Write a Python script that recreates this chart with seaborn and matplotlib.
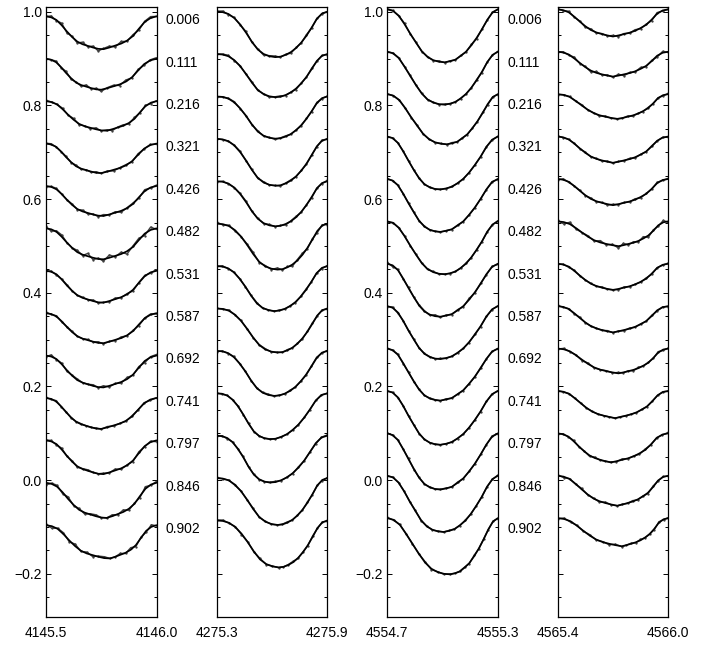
import numpy as np
import pandas as pd
import matplotlib
matplotlib.use("Agg")
import matplotlib.pyplot as plt
import seaborn as sns
from matplotlib.ticker import MultipleLocator, FuncFormatter

# ---------------- data ----------------
phases = ["0.006", "0.111", "0.216", "0.321", "0.426", "0.482", "0.531",
          "0.587", "0.692", "0.741", "0.797", "0.846", "0.902"]

wave_ranges = [(4145.5, 4146.0), (4275.3, 4275.9), (4554.7, 4555.3), (4565.4, 4566.0)]

# normalised profile shapes (0 = continuum, 1 = line core), 21 samples across the panel
shape_p1 = [0.00, 0.03, 0.11, 0.27, 0.46, 0.63, 0.77, 0.85, 0.90, 0.95, 0.99,
            1.00, 0.95, 0.89, 0.83, 0.74, 0.60, 0.38, 0.17, 0.05, 0.00]
shape_p2 = [0.00, 0.01, 0.05, 0.14, 0.28, 0.46, 0.66, 0.83, 0.93, 0.98, 1.00,
            0.99, 0.95, 0.89, 0.80, 0.68, 0.53, 0.35, 0.16, 0.04, 0.00]
shape_p3 = [0.00, 0.03, 0.12, 0.28, 0.46, 0.63, 0.79, 0.90, 0.96, 0.99, 1.00,
            0.98, 0.95, 0.88, 0.80, 0.68, 0.54, 0.38, 0.20, 0.06, 0.00]
shape_p4 = [0.00, 0.03, 0.11, 0.27, 0.45, 0.62, 0.76, 0.85, 0.91, 0.96, 1.00,
            0.96, 0.91, 0.86, 0.79, 0.69, 0.57, 0.38, 0.16, 0.04, 0.00]

# line depth for each phase
depth_p1 = [0.070, 0.066, 0.063, 0.063, 0.064, 0.066, 0.068, 0.064, 0.068, 0.066, 0.072, 0.075, 0.071]
depth_p2 = [0.097, 0.092, 0.090, 0.100, 0.096, 0.098, 0.096, 0.094, 0.096, 0.098, 0.100, 0.100, 0.100]
depth_p3 = [0.113, 0.113, 0.107, 0.113, 0.113, 0.113, 0.113, 0.113, 0.111, 0.115, 0.120, 0.120, 0.120]
depth_p4 = [0.058, 0.053, 0.053, 0.056, 0.056, 0.053, 0.056, 0.056, 0.053, 0.058, 0.062, 0.064, 0.060]

# position of the line core (fraction of the window) for each phase
core_p1 = [0.52, 0.50, 0.55, 0.50, 0.52, 0.52, 0.52, 0.52, 0.52, 0.50, 0.52, 0.55, 0.58]
core_p2 = [0.53, 0.53, 0.53, 0.53, 0.53, 0.55, 0.52, 0.55, 0.52, 0.48, 0.48, 0.55, 0.56]
core_p3 = [0.52, 0.52, 0.54, 0.48, 0.48, 0.52, 0.48, 0.48, 0.48, 0.48, 0.48, 0.51, 0.57]
core_p4 = [0.50, 0.50, 0.54, 0.50, 0.50, 0.55, 0.50, 0.50, 0.55, 0.52, 0.48, 0.54, 0.58]

# continuum level of the top profile in each panel
cont_top = [0.990, 1.000, 1.005, 1.005]

# observed-minus-model wiggles (units of 0.001) and their strength per phase
resid_p1 = [0, 2, -1, 3, -2, 1, -2, 3, -1, 2, -3, 1, 2, -2, 3, -1, 2, -2, 1, 2, 0]
resid_p2 = [1, 2, -1, 1, -1, 2, -1, 1, -2, 1, 2, -1, 1, -2, 1, -1, 2, -1, 1, -1, 0]
resid_p3 = [1, 1, -1, 2, -1, 1, -1, 1, -1, 2, -1, 1, -1, 1, -1, 2, -2, 1, -1, 1, 0]
resid_p4 = [1, -1, 2, -1, 1, -2, 2, -1, 1, -1, 2, -2, 1, -1, 2, -1, 1, -2, 2, -1, 0]
noise_p1 = [1.5, 1.2, 1.0, 0.8, 1.0, 2.0, 0.8, 0.8, 1.2, 0.6, 1.0, 1.5, 1.5]
noise_p2 = [1.2, 1.0, 0.8, 0.8, 1.0, 1.8, 0.8, 0.8, 0.8, 0.4, 0.8, 0.8, 1.0]
noise_p3 = [1.0, 0.8, 0.8, 0.6, 0.6, 0.8, 1.5, 0.8, 0.8, 0.4, 0.8, 0.8, 1.0]
noise_p4 = [1.2, 1.5, 0.8, 0.8, 1.0, 2.0, 0.8, 0.8, 1.0, 0.4, 1.0, 1.0, 1.0]

shapes = [shape_p1, shape_p2, shape_p3, shape_p4]
depths = [depth_p1, depth_p2, depth_p3, depth_p4]
cores = [core_p1, core_p2, core_p3, core_p4]
resids = [resid_p1, resid_p2, resid_p3, resid_p4]
noises = [noise_p1, noise_p2, noise_p3, noise_p4]

# ---------------- layout ----------------
STEP = 0.0905          # vertical offset between consecutive phases
W, H = 706, 646
sns.set_style("ticks")
plt.rcParams["font.family"] = ["Liberation Sans", "DejaVu Sans"]
plt.rcParams["font.size"] = 10
plt.rcParams["axes.unicode_minus"] = True

fig = plt.figure(figsize=(W / 100, H / 100), dpi=100)
lefts = [46, 216.7, 387.3, 557.7]
pw = 110.5
bottom_px, top_px = 617, 7


def yfmt(v, pos):
    s = f"{v:.1f}"
    if s == "-0.0":
        s = "0.0"
    return s.replace("-", "\u2212")


for p in range(4):
    ax = fig.add_axes([lefts[p] / W, (H - bottom_px) / H, pw / W, (bottom_px - top_px) / H])
    w0, w1 = wave_ranges[p]
    shape = np.array(shapes[p])
    frac = np.linspace(0, 1, len(shape))
    c0 = frac[np.argmax(shape)]
    rows = []
    for i, ph in enumerate(phases):
        c = cores[p][i]
        xf = np.where(frac <= c0, frac / c0 * c, c + (frac - c0) / (1 - c0) * (1 - c))
        wave = w0 + xf * (w1 - w0)
        cont = cont_top[p] - STEP * i
        model = cont - depths[p][i] * shape
        obs = model + noises[p][i] * np.roll(np.array(resids[p]), i) * 0.001
        for wv, m, o in zip(wave, model, obs):
            rows.append({"phase": ph, "wave": wv, "model": m, "obs": o})
    df = pd.DataFrame(rows)

    sns.lineplot(data=df, x="wave", y="obs", units="phase", estimator=None,
                 color="0.25", lw=1.0, marker=".", markersize=1.8,
                 markeredgecolor="0.25", sort=False, legend=False, ax=ax)
    sns.lineplot(data=df, x="wave", y="model", units="phase", estimator=None,
                 color="black", lw=1.25, sort=False, legend=False, ax=ax)

    ax.set_xlim(w0, w1)
    ax.set_ylim(-0.292, 1.01)
    ax.set_xlabel("")
    ax.set_ylabel("")
    ax.set_xticks([w0, w1])
    ax.set_xticklabels([f"{w0:.1f}", f"{w1:.1f}"])
    ax.tick_params(axis="x", length=0, pad=6.5, labelsize=10, colors="black")
    ax.yaxis.set_major_locator(MultipleLocator(0.2))
    ax.yaxis.set_minor_locator(MultipleLocator(0.05))
    ax.yaxis.set_major_formatter(FuncFormatter(yfmt))
    ax.tick_params(axis="y", which="both", direction="in", left=True, right=True,
                   width=0.7, colors="black", labelsize=10, pad=3)
    ax.tick_params(axis="y", which="major", length=3.3)
    ax.tick_params(axis="y", which="minor", length=2.0)
    if p in (1, 3):
        ax.tick_params(axis="y", labelleft=False)
    for sp in ax.spines.values():
        sp.set_visible(True)
        sp.set_color("black")
        sp.set_linewidth(0.9)

    if p in (0, 2):
        for i, ph in enumerate(phases):
            ax.text(1.085, cont_top[0] - STEP * i - 0.008, ph,
                    transform=ax.get_yaxis_transform(), ha="left", va="center",
                    fontsize=10, color="black", clip_on=False)

fig.savefig("out.png", dpi=100, facecolor="white")
